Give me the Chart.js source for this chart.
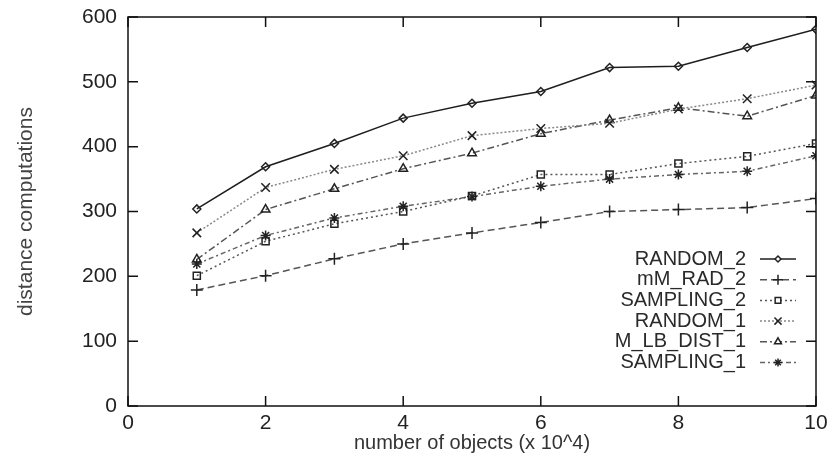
<!DOCTYPE html>
<html>
<head>
<meta charset="utf-8">
<script src="https://cdn.jsdelivr.net/npm/chart.js@4/dist/chart.umd.min.js"></script>
<style>
    html, body { margin: 0; padding: 0; background: #fff; }
    #chart { display: block; }
</style>
</head>
<body>
<canvas id="chart" width="835" height="459"></canvas>
<script>

// =====================================
// DATA
// =====================================

const objects = [1, 2, 3, 4, 5, 6, 7, 8, 9, 10];   // x 10^4

const random2   = [304, 369, 405, 444, 467, 485, 522, 524, 553, 581];
const mmRad2    = [179, 201, 227, 250, 267, 283, 300, 303, 306, 320];
const sampling2 = [201, 254, 281, 300, 324, 357, 357, 374, 385, 405];
const random1   = [267, 337, 365, 386, 417, 428, 436, 458, 474, 495];
const mLbDist1  = [226, 303, 335, 366, 390, 420, 441, 460, 447, 479];
const sampling1 = [219, 263, 290, 308, 323, 339, 350, 357, 362, 386];

const xTicks = [0, 2, 4, 6, 8, 10];
const yTicks = [0, 100, 200, 300, 400, 500, 600];

const FONT = "'Liberation Sans', Arial, sans-serif";

function points(values) {
    return objects.map((x, i) => ({ x: x, y: values[i] }));
}

function series(label, values, color, dash, style, radius) {
    return {
        label: label,
        data: points(values),
        borderColor: color,
        borderWidth: 1.5,
        borderDash: dash,
        pointStyle: style,
        pointRadius: radius,
        pointBorderColor: "#222",
        pointBackgroundColor: "rgba(255,255,255,0)",
        pointBorderWidth: 1.5,
        tension: 0,
        fill: false
    };
}

const datasets = [
    series("RANDOM_2",    random2,   "#1e1e1e", [],           "rectRot",  4),
    series("mM_RAD_2",    mmRad2,    "#555",    [7, 4],       "cross",    6),
    series("SAMPLING_2",  sampling2, "#555",    [2, 3],       "rect",     5),
    series("RANDOM_1",    random1,   "#888",    [2, 2],       "crossRot", 6),
    series("M_LB_DIST_1", mLbDist1,  "#555",    [7, 3, 2, 3], "triangle", 5),
    series("SAMPLING_1",  sampling1, "#666",    [5, 3, 2, 3], "star",     5)
];

// =====================================
// FRAME + INWARD TICKS (gnuplot style)
// =====================================

const framePlugin = {
    id: "frame",
    afterDatasetsDraw(chart) {
        const { ctx, chartArea: a, scales } = chart;
        const len = 10;
        ctx.save();
        ctx.strokeStyle = "#111";
        ctx.lineWidth = 1.5;
        ctx.setLineDash([]);
        ctx.strokeRect(a.left, a.top, a.right - a.left, a.bottom - a.top);
        ctx.beginPath();
        xTicks.forEach(v => {
            const px = scales.x.getPixelForValue(v);
            ctx.moveTo(px, a.bottom); ctx.lineTo(px, a.bottom - len);
            ctx.moveTo(px, a.top);    ctx.lineTo(px, a.top + len);
        });
        yTicks.forEach(v => {
            const py = scales.y.getPixelForValue(v);
            ctx.moveTo(a.left, py);  ctx.lineTo(a.left + len, py);
            ctx.moveTo(a.right, py); ctx.lineTo(a.right - len, py);
        });
        ctx.stroke();
        ctx.restore();
    }
};

// =====================================
// LEGEND (text on the left, sample on the right)
// =====================================

const legendPlugin = {
    id: "sideLegend",
    afterDraw(chart) {
        const { ctx, chartArea: a } = chart;
        const textRight = a.right - 70;
        const lineL = a.right - 56;
        const lineR = a.right - 20;
        let y = a.top + 242;
        ctx.save();
        ctx.font = "20px " + FONT;
        ctx.textAlign = "right";
        ctx.textBaseline = "middle";
        chart.data.datasets.forEach(ds => {
            ctx.fillStyle = "#2a2a2a";
            ctx.fillText(ds.label, textRight, y);

            ctx.strokeStyle = ds.borderColor;
            ctx.lineWidth = ds.borderWidth;
            ctx.setLineDash(ds.borderDash);
            ctx.beginPath();
            ctx.moveTo(lineL, y);
            ctx.lineTo(lineR, y);
            ctx.stroke();

            if (Chart.helpers && Chart.helpers.drawPoint) {
                ctx.setLineDash([]);
                ctx.strokeStyle = ds.pointBorderColor;
                ctx.fillStyle = "#fff";
                ctx.lineWidth = ds.pointBorderWidth;
                Chart.helpers.drawPoint(ctx, {
                    pointStyle: ds.pointStyle,
                    rotation: 0,
                    radius: ds.pointRadius - 1,
                    borderWidth: ds.pointBorderWidth
                }, (lineL + lineR) / 2, y);
            }
            y += 20.7;
        });
        ctx.restore();
    }
};

// =====================================
// CHART
// =====================================

new Chart(document.getElementById("chart"), {
    type: "line",
    data: { datasets: datasets },
    options: {
        responsive: false,
        animation: false,
        devicePixelRatio: 1,
        layout: {
            padding: { top: 17, right: 19, left: 0, bottom: 0 }
        },
        plugins: {
            legend: { display: false },
            tooltip: { enabled: false }
        },
        scales: {
            x: {
                type: "linear",
                min: 0,
                max: 10,
                afterBuildTicks: s => { s.ticks = xTicks.map(v => ({ value: v })); },
                afterFit: s => {
                    s.height = 53;
                    s.paddingLeft = 0;
                    s.paddingRight = 0;
                },
                grid: { display: false, drawTicks: false },
                border: { display: false },
                ticks: {
                    color: "#222",
                    padding: 5,
                    maxRotation: 0,
                    font: { family: FONT, size: 21 }
                },
                title: {
                    display: true,
                    text: "number of objects (x 10^4)",
                    color: "#333",
                    padding: { top: 0, bottom: 4 },
                    font: { family: FONT, size: 20 }
                }
            },
            y: {
                min: 0,
                max: 600,
                afterBuildTicks: s => { s.ticks = yTicks.map(v => ({ value: v })); },
                afterFit: s => {
                    s.width = 128;
                    s.paddingTop = 0;
                    s.paddingBottom = 0;
                },
                grid: { display: false, drawTicks: false },
                border: { display: false },
                ticks: {
                    color: "#222",
                    padding: 11,
                    font: { family: FONT, size: 21 }
                },
                title: {
                    display: true,
                    text: "distance computations",
                    color: "#444",
                    padding: { top: 14, bottom: 0 },
                    font: { family: FONT, size: 21 }
                }
            }
        }
    },
    plugins: [framePlugin, legendPlugin]
});

</script>
</body>
</html>
